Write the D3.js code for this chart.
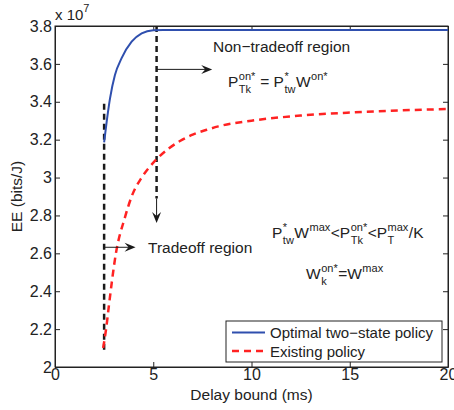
<!DOCTYPE html>
<html>
<head>
<meta charset="utf-8">
<script src="https://cdn.jsdelivr.net/npm/d3@7"></script>
<style>
  body { margin: 0; background: white; }
  svg text { font-family: "Liberation Sans", Arial, sans-serif; fill: #222; }
</style>
</head>
<body>
<svg id="chart"></svg>
<script>
"use strict";

// Data (EE in units of 1e7 bits/J)
const optimal_x = [2.5, 2.63, 2.8, 3.05, 3.39, 3.9, 4.41, 5.0, 5.5, 10, 15, 20];
const optimal_y = [3.186, 3.295, 3.418, 3.541, 3.63, 3.717, 3.761, 3.778, 3.779, 3.779, 3.779, 3.779];

const existing_x = [2.45, 2.6, 2.75, 3.1, 3.56, 3.9, 4.41, 4.83, 5.26, 5.77, 6.36, 7.04, 7.72, 8.31, 10, 12.5, 15, 17.5, 20];
const existing_y = [2.1, 2.2, 2.33, 2.6, 2.79, 2.9, 3.0, 3.058, 3.106, 3.152, 3.193, 3.228, 3.252, 3.27, 3.30, 3.327, 3.343, 3.354, 3.362];

const x_ticks = [0, 5, 10, 15, 20];
const y_ticks = [2, 2.2, 2.4, 2.6, 2.8, 3, 3.2, 3.4, 3.6, 3.8];
const series_names = ["Optimal two\u2212state policy", "Existing policy"];

const width = 454, height = 410;
const margins = {top: 26, right: 6, bottom: 43, left: 55};
const plot_width = width - margins.left - margins.right;
const plot_height = height - margins.top - margins.bottom;

const x_scale = d3.scaleLinear().domain([0, 20]).range([0, plot_width]);
const y_scale = d3.scaleLinear().domain([2, 3.8]).range([plot_height, 0]);

const svg = d3.select("#chart").attr("width", width).attr("height", height);
svg.append("rect").attr("width", width).attr("height", height).attr("fill", "white");

const plot = svg.append("g").attr("transform", "translate(" + margins.left + "," + margins.top + ")");

// Axes, MATLAB style: ticks inside, box all around
const x_axis = d3.axisBottom(x_scale).tickValues(x_ticks).tickSize(-5).tickSizeOuter(0).tickPadding(2);
const y_axis = d3.axisLeft(y_scale).tickValues(y_ticks).tickSize(-5).tickSizeOuter(0).tickPadding(3)
    .tickFormat(d3.format("~g"));

const gx = plot.append("g").attr("transform", "translate(0," + plot_height + ")").call(x_axis);
const gy = plot.append("g").call(y_axis);
plot.append("g").call(d3.axisTop(x_scale).tickValues(x_ticks).tickSize(-5).tickSizeOuter(0).tickFormat(""));
plot.append("g").attr("transform", "translate(" + plot_width + ",0)")
    .call(d3.axisRight(y_scale).tickValues(y_ticks).tickSize(-5).tickSizeOuter(0).tickFormat(""));

plot.selectAll(".domain").attr("stroke", "#222");
plot.selectAll(".tick line").attr("stroke", "#222");
[gx, gy].forEach(function (g) {
    g.selectAll("text").style("font-family", "Liberation Sans, Arial, sans-serif")
        .style("font-size", "16px").attr("fill", "#222");
});

plot.append("rect").attr("width", plot_width).attr("height", plot_height)
    .attr("fill", "none").attr("stroke", "#222").attr("stroke-width", 1);

// Axis labels
svg.append("text").attr("x", margins.left + plot_width / 2).attr("y", 400)
    .attr("text-anchor", "middle").style("font-size", "15.5px").text("Delay bound (ms)");
svg.append("text").attr("transform", "translate(22," + (margins.top + plot_height / 2) + ") rotate(-90)")
    .attr("text-anchor", "middle").style("font-size", "15.5px").text("EE (bits/J)");
const exp_label = svg.append("text").attr("x", 55).attr("y", 20).style("font-size", "15px");
exp_label.append("tspan").text("x 10");
exp_label.append("tspan").attr("dy", -8).style("font-size", "11px").text("7");

// Curves
const line = d3.line().curve(d3.curveMonotoneX)
    .x(function (d) { return x_scale(d[0]); })
    .y(function (d) { return y_scale(d[1]); });

const existing_data = d3.zip(existing_x, existing_y);
const optimal_data = d3.zip(optimal_x, optimal_y);

// Annotation helpers
const black = "#1a1a1a";
function dashed(x0, y0, x1, y1) {
    plot.append("line")
        .attr("x1", x_scale(x0)).attr("y1", y_scale(y0))
        .attr("x2", x_scale(x1)).attr("y2", y_scale(y1))
        .attr("stroke", black).attr("stroke-width", 2.5).attr("stroke-dasharray", "6,4");
}
function arrow(x0, y0, x1, y1) {
    const ax = x_scale(x0), ay = y_scale(y0), bx = x_scale(x1), by = y_scale(y1);
    const ang = Math.atan2(by - ay, bx - ax) * 180 / Math.PI;
    plot.append("line").attr("x1", ax).attr("y1", ay).attr("x2", bx - 5 * Math.cos(ang * Math.PI / 180))
        .attr("y2", by - 5 * Math.sin(ang * Math.PI / 180))
        .attr("stroke", black).attr("stroke-width", 1);
    plot.append("path").attr("d", "M0,0 L-11,-4.5 L-7,0 L-11,4.5 Z")
        .attr("transform", "translate(" + bx + "," + by + ") rotate(" + ang + ")")
        .attr("fill", black);
}

dashed(2.5, 3.39, 2.5, 2.07);
dashed(5.17, 3.8, 5.17, 2.89);

plot.append("path").datum(existing_data).attr("d", line).attr("fill", "none")
    .attr("stroke", "#ff2222").attr("stroke-width", 2.5).attr("stroke-dasharray", "7,5");
plot.append("path").datum(optimal_data).attr("d", line).attr("fill", "none")
    .attr("stroke", "#2f4fae").attr("stroke-width", 2);

arrow(5.17, 3.571, 8.0, 3.571);
arrow(5.17, 2.89, 5.17, 2.76);
arrow(2.5, 2.632, 4.1, 2.632);

// Text with stacked super/subscripts
function math_text(x, y, parts) {
    let cx = x;
    parts.forEach(function (p) {
        const base = svg.append("text").attr("x", cx).attr("y", y)
            .style("font-size", "15.5px").style("white-space", "pre").text(p.b);
        cx += base.node().getComputedTextLength();
        let w = 0;
        if (p.sup) {
            const t = svg.append("text").attr("x", cx + 0.5).attr("y", y - 7)
                .style("font-size", "11px").text(p.sup);
            w = Math.max(w, t.node().getComputedTextLength());
        }
        if (p.sub) {
            const t = svg.append("text").attr("x", cx + 0.5).attr("y", y + 6)
                .style("font-size", "11px").text(p.sub);
            w = Math.max(w, t.node().getComputedTextLength());
        }
        cx += w + (w > 0 ? 1 : 0);
    });
}

svg.append("text").attr("x", 213).attr("y", 52).style("font-size", "15.5px").text("Non\u2212tradeoff region");
math_text(228, 87, [{b: "P", sup: "on*", sub: "Tk"}, {b: " = P", sup: "*", sub: "tw"}, {b: "W", sup: "on*"}]);
svg.append("text").attr("x", 148).attr("y", 253).style("font-size", "15.5px").text("Tradeoff region");
math_text(272, 238, [{b: "P", sup: "*", sub: "tw"}, {b: "W", sup: "max"}, {b: "<P", sup: "on*", sub: "Tk"},
    {b: "<P", sup: "max", sub: "T"}, {b: "/K"}]);
math_text(306, 279, [{b: "W", sup: "on*", sub: "k"}, {b: "=W", sup: "max"}]);

// Legend
const legend = svg.append("g").attr("transform", "translate(226,321)");
legend.append("rect").attr("width", 216).attr("height", 41).attr("fill", "white")
    .attr("stroke", "#222").attr("stroke-width", 1);
const legend_styles = [
    {color: "#2f4fae", dash: null, width: 2},
    {color: "#ff2222", dash: "7,5", width: 2.5}
];
series_names.forEach(function (name, i) {
    const ly = 11.5 + i * 18.5;
    legend.append("line").attr("x1", 6).attr("x2", 39).attr("y1", ly).attr("y2", ly)
        .attr("stroke", legend_styles[i].color).attr("stroke-width", legend_styles[i].width)
        .attr("stroke-dasharray", legend_styles[i].dash);
    legend.append("text").attr("x", 44).attr("y", ly + 5.5).style("font-size", "15px").text(name);
});
</script>
</body>
</html>
